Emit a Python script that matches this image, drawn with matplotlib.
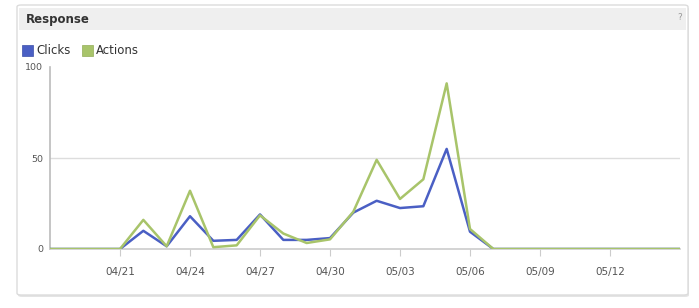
import matplotlib.pyplot as plt
import matplotlib.dates as mdates
from matplotlib.patches import FancyBboxPatch, Rectangle
import numpy as np

# daily values, 04/18 - 05/15
dates = np.arange(np.datetime64('2012-04-18'), np.datetime64('2012-05-16'))
clicks = [0, 0, 0, 0, 10, 1.5, 18, 4.5, 5, 19, 5, 5, 6, 20, 26.5, 22.5, 23.5, 55, 9.5,
          0, 0, 0, 0, 0, 0, 0, 0, 0]
actions = [0, 0, 0, 0, 16, 1.5, 32, 1, 2, 18.5, 8.5, 3.3, 5.3, 20.5, 49, 27.5, 38.3, 91, 11,
           0, 0, 0, 0, 0, 0, 0, 0, 0]
tick_dates = np.arange(np.datetime64('2012-04-21'), np.datetime64('2012-05-13'), 3)

blue = '#4a5fc4'
green = '#a8c46a'

fig = plt.figure(figsize=(6.99, 3.08), dpi=100)
W, H = 699, 308

# card (with soft shadow) + header band
fig.patches.append(FancyBboxPatch((18 / W, 11 / H), 671 / W, 290 / H,
                                  boxstyle='round,pad=0,rounding_size=0.006',
                                  transform=fig.transFigure, facecolor='#e4e4e4',
                                  edgecolor='none', zorder=0))
fig.patches.append(FancyBboxPatch((17 / W, 13 / H), 671 / W, 290 / H,
                                  boxstyle='round,pad=0,rounding_size=0.006',
                                  transform=fig.transFigure, facecolor='white',
                                  edgecolor='#dcdcdc', linewidth=1, zorder=0))
fig.patches.append(Rectangle((19 / W, 278 / H), 667 / W, 22 / H,
                             transform=fig.transFigure, facecolor='#efefef',
                             edgecolor='none', zorder=0))
fig.text(26 / W, 289 / H, 'Response', fontsize=8.5, fontweight='bold',
         color='#333333', va='center', ha='left')
fig.text(680 / W, 290 / H, '?', fontsize=6.5, color='#999999', va='center', ha='center')

ax = fig.add_axes([50 / W, 59 / H, 630 / W, 182 / H], zorder=5)
ax.patch.set_alpha(0)
ax.plot(dates, clicks, color=blue, linewidth=1.8, label='Clicks', zorder=3)
ax.plot(dates, actions, color=green, linewidth=1.8, label='Actions', zorder=3)

ax.set_xlim(dates[0], dates[-1])
ax.set_ylim(0, 100)
ax.set_yticks([0, 50, 100])
ax.set_xticks(tick_dates)
ax.xaxis.set_major_formatter(mdates.DateFormatter('%m/%d'))
ax.axhline(50, color='#dddddd', linewidth=1, zorder=1)

for s in ['top', 'right']:
    ax.spines[s].set_visible(False)
ax.spines['left'].set_color('#bbbbbb')
ax.spines['bottom'].set_color('#cccccc')
ax.spines['left'].set_linewidth(1.2)
ax.spines['bottom'].set_linewidth(1.2)
ax.tick_params(axis='y', length=0, pad=5, labelsize=6.8, labelcolor='#555555')
ax.tick_params(axis='x', length=5, color='#cccccc', pad=8, labelsize=7.5,
               labelcolor='#555555')

# legend with square swatches
fig.patches.append(Rectangle((22 / W, 252 / H), 11 / W, 11 / H, transform=fig.transFigure,
                             facecolor=blue, edgecolor='#3a4fa8', linewidth=0.5))
fig.text(36 / W, 257 / H, 'Clicks', fontsize=8.5, color='#333333', va='center')
fig.patches.append(Rectangle((82 / W, 252 / H), 11 / W, 11 / H, transform=fig.transFigure,
                             facecolor=green, edgecolor='#93ad58', linewidth=0.5))
fig.text(96 / W, 257 / H, 'Actions', fontsize=8.5, color='#333333', va='center')

fig.savefig('out.png', dpi=100)
